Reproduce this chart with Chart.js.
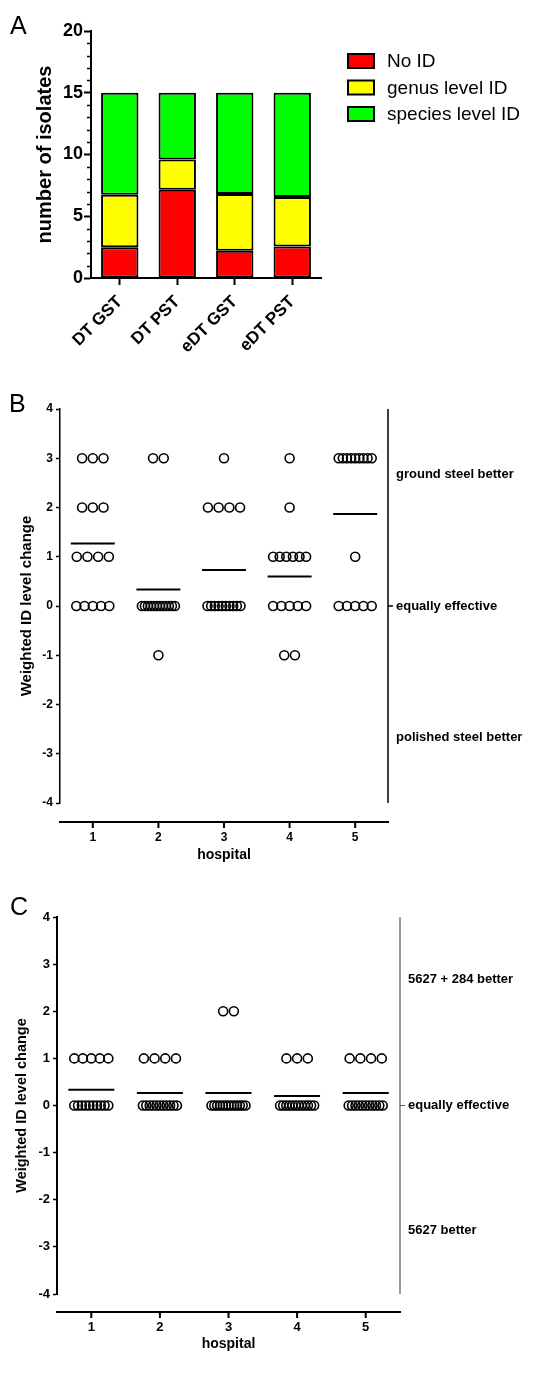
<!DOCTYPE html>
<html>
<head>
<meta charset="utf-8">
<script src="https://cdn.jsdelivr.net/npm/chart.js@4.4.0/dist/chart.umd.min.js"></script>
<style>
body{margin:0;background:#fff}
#wrap{position:relative;width:556px;height:1400px}
canvas{position:absolute;left:0}
</style>
</head>
<body>
<div id="wrap">
<canvas id="chartA" width="556" height="380" style="top:0"></canvas>
<canvas id="chartB" width="556" height="490" style="top:385px"></canvas>
<canvas id="chartC" width="556" height="525" style="top:875px"></canvas>
</div>
<script>
// PANEL A - identification level per method
const methods = ["DT GST", "DT PST", "eDT GST", "eDT PST"];
const noId = [2.5, 7.15, 2.2, 2.55];
const genusId = [4.25, 2.45, 4.6, 4.0];
const speciesId = [8.25, 5.4, 8.2, 8.45];

// PANEL B - ground vs polished steel, weighted ID level change per isolate
const hospitals = [1, 2, 3, 4, 5];
const bHosp1 = [3, 3, 3, 2, 2, 2, 1, 1, 1, 1, 0, 0, 0, 0, 0];
const bHosp2 = [3, 3, 0, 0, 0, 0, 0, 0, 0, 0, 0, 0, 0, 0, -1];
const bHosp3 = [3, 2, 2, 2, 2, 0, 0, 0, 0, 0, 0, 0, 0, 0, 0];
const bHosp4 = [3, 2, 1, 1, 1, 1, 1, 1, 0, 0, 0, 0, 0, -1, -1];
const bHosp5 = [3, 3, 3, 3, 3, 3, 3, 3, 3, 1, 0, 0, 0, 0, 0];
const bSideLabels = ["ground steel better", "equally effective", "polished steel better"];
const bSideLevels = [2.67, 0, -2.67];

// PANEL C - 5627 vs 5627 + 284
const cHosp1 = [1, 1, 1, 1, 1, 0, 0, 0, 0, 0, 0, 0, 0, 0, 0];
const cHosp2 = [1, 1, 1, 1, 0, 0, 0, 0, 0, 0, 0, 0, 0, 0, 0];
const cHosp3 = [2, 2, 0, 0, 0, 0, 0, 0, 0, 0, 0, 0, 0, 0, 0];
const cHosp4 = [1, 1, 1, 0, 0, 0, 0, 0, 0, 0, 0, 0, 0, 0, 0];
const cHosp5 = [1, 1, 1, 1, 0, 0, 0, 0, 0, 0, 0, 0, 0, 0, 0];
const cSideLabels = ["5627 + 284 better", "equally effective", "5627 better"];
const cSideLevels = [2.67, 0, -2.65];

Chart.defaults.font.family = "'Liberation Sans', Arial, Helvetica, sans-serif";
Chart.defaults.color = "#000";
Chart.defaults.animation = false;
Chart.defaults.events = [];

// panel letter (A, B, C)
const panelLetter = {
  id: "panelLetter",
  afterDraw(chart, args, o) {
    const ctx = chart.ctx;
    ctx.save();
    ctx.font = "25px 'Liberation Sans', Arial, sans-serif";
    ctx.fillStyle = "#000";
    ctx.fillText(o.text, o.x, o.y);
    ctx.restore();
  }
};

// minor ticks on the y axis of panel A
const minorTicks = {
  id: "minorTicks",
  afterDraw(chart) {
    const {ctx, chartArea: a, scales: {y}} = chart;
    ctx.save();
    ctx.strokeStyle = "#000";
    ctx.lineWidth = 1.5;
    ctx.beginPath();
    for (let v = y.min; v <= y.max; v++) {
      if (v % 5 === 0) continue;
      const py = Math.round(y.getPixelForValue(v)) + 0.5;
      ctx.moveTo(a.left, py);
      ctx.lineTo(a.left - 4, py);
    }
    ctx.stroke();
    ctx.restore();
  }
};

// legend with boxes, drawn next to panel A
const boxLegend = {
  id: "boxLegend",
  afterDraw(chart, args, o) {
    const ctx = chart.ctx;
    ctx.save();
    ctx.font = "19px 'Liberation Sans', Arial, sans-serif";
    ctx.textBaseline = "middle";
    chart.data.datasets.forEach((ds, i) => {
      const cy = o.y + i * o.row;
      ctx.fillStyle = ds.backgroundColor;
      ctx.fillRect(o.x, cy - 7, 26, 14);
      ctx.strokeStyle = "#000";
      ctx.lineWidth = 2;
      ctx.strokeRect(o.x, cy - 7, 26, 14);
      ctx.fillStyle = "#000";
      ctx.fillText(ds.label, o.x + 39, cy + 1);
    });
    ctx.restore();
  }
};

// dropped x axis, right-hand line and its labels (panels B and C)
const dotFrame = {
  id: "dotFrame",
  afterDraw(chart, args, o) {
    const {ctx, chartArea: a, scales: {x, y}} = chart;
    ctx.save();
    const yb = a.bottom + o.gap;
    ctx.strokeStyle = "#000";
    ctx.lineWidth = o.axisWidth;
    ctx.beginPath();
    ctx.moveTo(a.left - 1, yb);
    ctx.lineTo(a.right + 1, yb);
    hospitals.forEach(h => {
      const px = x.getPixelForValue(h);
      ctx.moveTo(px, yb);
      ctx.lineTo(px, yb + 6);
    });
    ctx.stroke();

    ctx.strokeStyle = o.sideColor;
    ctx.lineWidth = o.sideWidth;
    ctx.beginPath();
    ctx.moveTo(a.right, a.top);
    ctx.lineTo(a.right, a.bottom);
    const y0 = y.getPixelForValue(0);
    ctx.moveTo(a.right, y0);
    ctx.lineTo(a.right + 5, y0);
    ctx.stroke();

    ctx.font = "bold 13px 'Liberation Sans', Arial, sans-serif";
    ctx.fillStyle = "#000";
    ctx.textBaseline = "middle";
    o.labels.forEach((t, i) => ctx.fillText(t, a.right + 8, y.getPixelForValue(o.levels[i])));
    ctx.restore();
  }
};

// CHART A
new Chart(document.getElementById("chartA"), {
  type: "bar",
  data: {
    labels: methods,
    datasets: [
      {label: "No ID", data: noId, backgroundColor: "#ff0000"},
      {label: "genus level ID", data: genusId, backgroundColor: "#ffff00"},
      {label: "species level ID", data: speciesId, backgroundColor: "#00ff00"}
    ].map(d => Object.assign(d, {
      borderColor: "#000", borderWidth: 2, borderSkipped: false,
      categoryPercentage: 1, barPercentage: 0.65
    }))
  },
  options: {
    responsive: false,
    layout: {padding: {left: 29, right: 235, top: 31, bottom: 0}},
    plugins: {
      legend: {display: false},
      tooltip: {enabled: false},
      panelLetter: {text: "A", x: 10, y: 34},
      boxLegend: {x: 348, y: 61, row: 26.5}
    },
    scales: {
      x: {
        stacked: true,
        grid: {drawOnChartArea: false, offset: false, tickLength: 7, tickWidth: 2, tickColor: "#000"},
        border: {color: "#000", width: 2},
        ticks: {font: {size: 17, weight: "bold"}, maxRotation: 45, minRotation: 45, padding: 7},
        afterFit: s => { s.height = 102; }
      },
      y: {
        stacked: true,
        min: 0,
        max: 20,
        ticks: {stepSize: 5, font: {size: 18, weight: "bold"}, padding: 1},
        grid: {drawOnChartArea: false, tickLength: 7, tickWidth: 2, tickColor: "#000"},
        border: {color: "#000", width: 2},
        title: {display: true, text: "number of isolates", font: {size: 20, weight: "bold"}, padding: 4},
        afterFit: s => { s.width = 62; }
      }
    }
  },
  plugins: [panelLetter, minorTicks, boxLegend]
});

// column scatter: equal values are spread side by side around the hospital
function spreadPoints(groups, spreadPx, unitPx) {
  const pts = [];
  groups.forEach((vals, i) => {
    [...new Set(vals)].forEach(v => {
      const n = vals.filter(u => u === v).length;
      const step = n > 1 ? Math.min(10.7, spreadPx / (n - 1)) : 0;
      for (let k = 0; k < n; k++) {
        pts.push({x: hospitals[i] + (k - (n - 1) / 2) * step / unitPx, y: v});
      }
    });
  });
  return pts;
}
const mean = a => a.reduce((s, v) => s + v, 0) / a.length;

function dotChart(id, groups, o) {
  return new Chart(document.getElementById(id), {
    type: "scatter",
    data: {
      datasets: [
        {
          data: spreadPoints(groups, o.spread, o.unitPx),
          pointStyle: "circle", pointRadius: 4.5, pointBorderWidth: 1.6,
          pointBorderColor: "#000", pointBackgroundColor: "rgba(0,0,0,0)"
        },
        {
          data: groups.map((g, i) => ({x: hospitals[i], y: mean(g)})),
          pointStyle: "line", pointRadius: o.meanHalf, pointBorderWidth: 2,
          pointBorderColor: "#000"
        }
      ]
    },
    options: {
      responsive: false,
      layout: {padding: o.padding},
      plugins: {
        legend: {display: false},
        tooltip: {enabled: false},
        panelLetter: o.letter,
        dotFrame: o.frame
      },
      scales: {
        x: {
          type: "linear",
          min: 0.5,
          max: 5.5,
          afterBuildTicks: s => { s.ticks = hospitals.map(v => ({value: v})); },
          grid: {display: false},
          border: {display: false},
          ticks: {font: {size: o.tickSize, weight: "bold"}, padding: o.xPad},
          title: {display: true, text: "hospital", font: {size: 14, weight: "bold"}, padding: {top: o.titlePad, bottom: o.titlePad}},
          afterFit: s => { s.height = o.xHeight; }
        },
        y: {
          min: -4,
          max: 4,
          ticks: {stepSize: 1, font: {size: o.tickSize, weight: "bold"}, padding: 3},
          grid: {drawOnChartArea: false, tickLength: 4, tickWidth: 1.5, tickColor: "#000"},
          border: {color: "#000", width: o.yWidth},
          title: {display: true, text: "Weighted ID level change", font: {size: o.yTitleSize, weight: "bold"}, padding: 3},
          afterFit: s => { s.width = o.yAxisW; }
        }
      }
    },
    plugins: [panelLetter, dotFrame]
  });
}

// CHART B
dotChart("chartB", [bHosp1, bHosp2, bHosp3, bHosp4, bHosp5], {
  spread: 33, unitPx: 65.6, meanHalf: 22,
  padding: {left: 15, right: 168, top: 23, bottom: 0},
  letter: {text: "B", x: 9, y: 27},
  frame: {gap: 19, axisWidth: 2, sideColor: "#000", sideWidth: 1.5, labels: bSideLabels, levels: bSideLevels},
  tickSize: 12, xPad: 19, titlePad: 11.6, xHeight: 72,
  yWidth: 1.5, yTitleSize: 15, yAxisW: 45
});

// CHART C
dotChart("chartC", [cHosp1, cHosp2, cHosp3, cHosp4, cHosp5], {
  spread: 34, unitPx: 68.6, meanHalf: 23,
  padding: {left: 10, right: 156, top: 42, bottom: 40},
  letter: {text: "C", x: 10, y: 40},
  frame: {gap: 18, axisWidth: 2, sideColor: "#555", sideWidth: 1.2, labels: cSideLabels, levels: cSideLevels},
  tickSize: 13, xPad: 18, titlePad: 7.6, xHeight: 66,
  yWidth: 2, yTitleSize: 14.5, yAxisW: 47
});
</script>
</body>
</html>
